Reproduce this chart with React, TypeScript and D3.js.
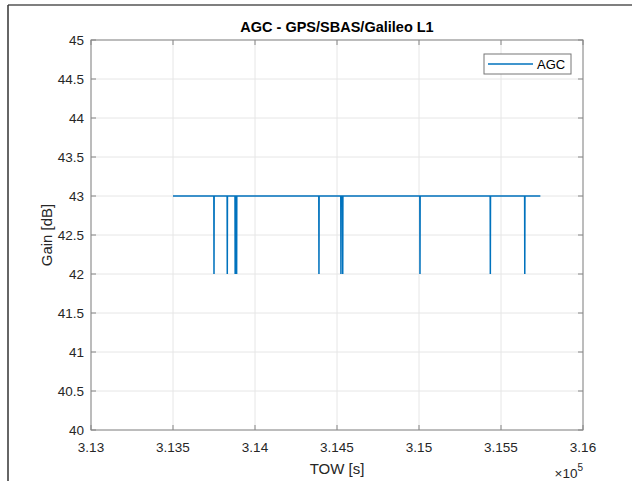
import React from "react";
import * as d3 from "d3";

// AGC samples (TOW seconds, gain dB)
const towSeconds = [
  313500, 313749, 313750, 313751, 313830, 313831, 313832, 313878, 313879,
  313880, 313887, 313888, 313889, 314389, 314390, 314391, 314523, 314524,
  314525, 314534, 314535, 314536, 315005, 315006, 315007, 315434, 315435,
  315436, 315644, 315645, 315646, 315740,
];
const gainDb = [
  43, 43, 42, 43, 43, 42, 43, 43, 42,
  43, 43, 42, 43, 43, 42, 43, 43, 42,
  43, 43, 42, 43, 43, 42, 43, 43, 42,
  43, 43, 42, 43, 43,
];

const xTicks = [313000, 313500, 314000, 314500, 315000, 315500, 316000];
const yTicks = [40, 40.5, 41, 41.5, 42, 42.5, 43, 43.5, 44, 44.5, 45];

const seriesName = "AGC";
const title = "AGC - GPS/SBAS/Galileo L1";

const W = 632;
const H = 481;
const margin = { left: 91, right: 49, top: 40, bottom: 51 };
const font = "Arial, 'Liberation Sans', Helvetica, sans-serif";
const textColor = "#262626";
const axisColor = "#868686";
const gridColor = "#e6e6e6";
const lineColor = "#0072BD";

const App = () => {
  const x = d3
    .scaleLinear()
    .domain([313000, 316000])
    .range([margin.left, W - margin.right]);
  const y = d3
    .scaleLinear()
    .domain([40, 45])
    .range([H - margin.bottom, margin.top]);

  const pts: [number, number][] = towSeconds.map((t, i) => [t, gainDb[i]]);
  const line = d3
    .line<[number, number]>()
    .x((d) => x(d[0]))
    .y((d) => y(d[1]));

  const x0 = x.range()[0];
  const x1 = x.range()[1];
  const y0 = y.range()[0];
  const y1 = y.range()[1];
  const tick = 5;

  return (
    <svg
      width={W}
      height={H}
      style={{ position: "absolute", left: 0, top: 0, background: "#fff" }}
      fontFamily={font}
    >
      <rect width={W} height={H} fill="#fff" />
      {/* outer frame */}
      <line x1={8} x2={W} y1={5} y2={5} stroke="#555" strokeWidth={1.5} />
      <line x1={8} x2={8} y1={5} y2={H} stroke="#333" strokeWidth={1.5} />

      {/* grid */}
      {xTicks.map((t) => (
        <line key={"gx" + t} x1={x(t)} x2={x(t)} y1={y1} y2={y0} stroke={gridColor} />
      ))}
      {yTicks.map((t) => (
        <line key={"gy" + t} x1={x0} x2={x1} y1={y(t)} y2={y(t)} stroke={gridColor} />
      ))}

      {/* data */}
      <path d={line(pts) || ""} fill="none" stroke={lineColor} strokeWidth={1.5} />

      {/* axes box and ticks */}
      <rect x={x0} y={y1} width={x1 - x0} height={y0 - y1} fill="none" stroke={axisColor} strokeWidth={1} />
      {xTicks.map((t) => (
        <g key={"tx" + t} stroke={axisColor}>
          <line x1={x(t)} x2={x(t)} y1={y0} y2={y0 - tick} />
          <line x1={x(t)} x2={x(t)} y1={y1} y2={y1 + tick} />
        </g>
      ))}
      {yTicks.map((t) => (
        <g key={"ty" + t} stroke={axisColor}>
          <line x1={x0} x2={x0 + tick} y1={y(t)} y2={y(t)} />
          <line x1={x1} x2={x1 - tick} y1={y(t)} y2={y(t)} />
        </g>
      ))}

      {/* tick labels */}
      {xTicks.map((t) => (
        <text key={"lx" + t} x={x(t)} y={y0 + 22} textAnchor="middle" fontSize={13.5} fill={textColor}>
          {d3.format("~g")(t / 1e5)}
        </text>
      ))}
      {yTicks.map((t) => (
        <text key={"ly" + t} x={x0 - 7} y={y(t) + 5} textAnchor="end" fontSize={13.5} fill={textColor}>
          {d3.format("~g")(t)}
        </text>
      ))}

      {/* exponent */}
      <text x={x1} y={y0 + 48} textAnchor="end" fontSize={13.5} fill={textColor}>
        <tspan>×10</tspan>
        <tspan fontSize={10} dy={-7}>5</tspan>
      </text>

      {/* axis labels */}
      <text x={(x0 + x1) / 2} y={y0 + 44} textAnchor="middle" fontSize={15} fill={textColor}>
        TOW [s]
      </text>
      <text
        transform={`translate(${x0 - 39},${(y0 + y1) / 2}) rotate(-90)`}
        textAnchor="middle"
        fontSize={15}
        fill={textColor}
      >
        Gain [dB]
      </text>

      {/* title */}
      <text x={(x0 + x1) / 2} y={y1 - 8} textAnchor="middle" fontSize={14.5} fontWeight="bold" fill="#000">
        {title}
      </text>

      {/* legend */}
      <rect x={484} y={54} width={87} height={20} fill="#fff" stroke="#777" strokeWidth={1} />
      <line x1={488} x2={533} y1={64} y2={64} stroke={lineColor} strokeWidth={1.5} />
      <text x={537} y={68.5} fontSize={13} fill="#000">
        {seriesName}
      </text>
    </svg>
  );
};

export default App;
